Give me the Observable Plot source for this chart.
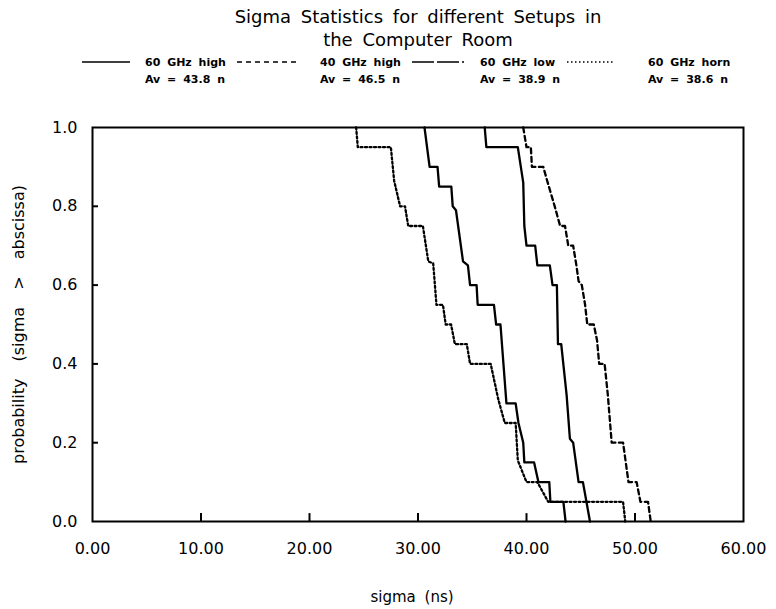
<!DOCTYPE html>
<html><head><meta charset="utf-8">
<script src="https://cdn.jsdelivr.net/npm/d3@7"></script>
<script src="https://cdn.jsdelivr.net/npm/@observablehq/plot@0.6"></script>
<style>
body{margin:0;background:#fff;font-family:"DejaVu Sans",sans-serif;}
#wrap{width:776px;height:609px;position:relative;overflow:hidden;background:#fff}
#head{display:block}
#chart svg{display:block}
</style></head><body><div id="wrap"><svg id="head" width="776" height="95"></svg><div id="chart"></div></div>
<script>
const title1 = "Sigma Statistics for different Setups in";
const title2 = "the Computer Room";
const seriesNames = ["60 GHz high", "40 GHz high", "60 GHz low", "60 GHz horn"];
const averages = ["Av = 43.8 n", "Av = 46.5 n", "Av = 38.9 n", "Av = 38.6 n"];
const xLabel = "sigma (ns)";
const yLabel = "probability (sigma > abscissa)";
const xTicks = [0, 10, 20, 30, 40, 50, 60];
const yTicks = [0, 0.2, 0.4, 0.6, 0.8, 1.0];

// 60 GHz high (solid)
const sigma60High = [36.15, 36.3, 39.2, 39.7, 39.8, 40.0, 40.8, 41.0, 42.15, 42.4, 42.8, 42.9, 43.2, 43.7, 44.0, 44.3, 44.8, 45.2, 45.85];
const prob60High  = [1.0, 0.95, 0.95, 0.86, 0.75, 0.70, 0.70, 0.65, 0.65, 0.60, 0.60, 0.45, 0.45, 0.32, 0.21, 0.20, 0.10, 0.10, 0.0];
// 40 GHz high (dashed)
const sigma40High = [39.7, 40.0, 40.4, 40.5, 41.55, 41.85, 42.6, 43.1, 43.55, 43.85, 44.3, 44.6, 44.8, 45.1, 45.4, 45.6, 46.2, 46.5, 46.7, 47.2, 47.5, 47.85, 48.9, 49.4, 50.15, 50.5, 51.2, 51.45];
const prob40High  = [1.0, 0.95, 0.95, 0.90, 0.90, 0.87, 0.80, 0.75, 0.75, 0.70, 0.70, 0.65, 0.61, 0.60, 0.55, 0.50, 0.50, 0.46, 0.40, 0.40, 0.32, 0.20, 0.20, 0.10, 0.10, 0.05, 0.05, 0.0];
// 60 GHz low (solid)
const sigma60Low = [30.6, 31.07, 31.8, 31.95, 33.07, 33.2, 33.5, 34.15, 34.6, 34.8, 35.4, 35.5, 37.0, 37.2, 37.6, 38.15, 39.0, 39.26, 39.7, 39.8, 40.7, 41.1, 42.1, 42.2, 43.4, 43.6];
const prob60Low  = [1.0, 0.90, 0.90, 0.85, 0.85, 0.80, 0.79, 0.66, 0.65, 0.60, 0.60, 0.55, 0.55, 0.50, 0.50, 0.30, 0.30, 0.25, 0.20, 0.15, 0.15, 0.10, 0.10, 0.05, 0.05, 0.0];
// 60 GHz horn (dotted)
const sigma60Horn = [24.3, 24.45, 27.5, 27.8, 28.35, 28.8, 29.1, 30.45, 30.95, 31.4, 31.7, 32.3, 32.55, 33.05, 33.4, 34.5, 34.8, 36.7, 37.4, 38.0, 39.0, 39.2, 40.0, 41.0, 42.0, 48.9, 49.1];
const prob60Horn  = [1.0, 0.95, 0.95, 0.865, 0.80, 0.80, 0.75, 0.75, 0.66, 0.655, 0.55, 0.55, 0.50, 0.50, 0.45, 0.45, 0.40, 0.40, 0.31, 0.25, 0.25, 0.155, 0.10, 0.10, 0.05, 0.05, 0.0];

const dashes = [null, "5,3.5", null, "2,2.5"];
const series = [
  {name: seriesNames[0], s: sigma60High, p: prob60High},
  {name: seriesNames[1], s: sigma40High, p: prob40High},
  {name: seriesNames[2], s: sigma60Low, p: prob60Low},
  {name: seriesNames[3], s: sigma60Horn, p: prob60Horn}
];
const rows = series.map(d => d.s.map((x, i) => ({series: d.name, sigma: x, prob: d.p[i]})));

// Header (title + legend)
const head = d3.select("#head");
const font = '"DejaVu Sans", sans-serif';
head.append("text").attr("x", 418).attr("y", 23).attr("text-anchor", "middle")
  .attr("font-family", font).attr("font-size", 18).attr("word-spacing", 4).text(title1);
head.append("text").attr("x", 418).attr("y", 46).attr("text-anchor", "middle")
  .attr("font-family", font).attr("font-size", 18).attr("word-spacing", 4).text(title2);
const sampleX = [[82, 130], [237, 298], [412, 464], [567, 615]];
const labelX = [145, 320, 480, 648];
const sampleDash = [null, "5,4", "22,3", "1.5,2.5"];
seriesNames.forEach((n, i) => {
  head.append("line").attr("x1", sampleX[i][0]).attr("x2", sampleX[i][1]).attr("y1", 62).attr("y2", 62)
    .attr("stroke", "#000").attr("stroke-width", 1.6).attr("stroke-dasharray", sampleDash[i]);
  head.append("text").attr("x", labelX[i]).attr("y", 66).attr("font-family", font).attr("font-size", 11)
    .attr("font-weight", "bold").attr("word-spacing", 3).text(n);
  head.append("text").attr("x", labelX[i]).attr("y", 83).attr("font-family", font).attr("font-size", 11)
    .attr("font-weight", "bold").attr("word-spacing", 3).text(averages[i]);
});

const plot = Plot.plot({
  width: 776, height: 514,
  marginLeft: 92, marginRight: 33, marginTop: 32, marginBottom: 88,
  style: {fontFamily: font, fontSize: "16px", color: "#000", background: "#fff"},
  x: {domain: [0, 60]},
  y: {domain: [0, 1]},
  marks: [
    Plot.axisX({ticks: xTicks, tickSize: 0, tickPadding: 21, tickFormat: d3.format(".2f"), fontSize: 16, label: null}),
    Plot.axisY({ticks: yTicks, tickSize: 0, tickPadding: 15, tickFormat: d3.format(".1f"), fontSize: 16, label: null}),
    Plot.ruleX(xTicks.slice(1, -1), {y1: 0, y2: 0.02, strokeWidth: 2}),
    Plot.ruleY(yTicks.slice(1, -1), {x1: 0, x2: 0.55, strokeWidth: 2}),
    ...rows.map((r, i) => Plot.line(r, {x: "sigma", y: "prob", stroke: "#000", strokeWidth: 2.3, strokeDasharray: dashes[i]})),
    Plot.frame({strokeWidth: 2}),
    Plot.text([xLabel], {frameAnchor: "bottom", dy: 76, dx: -6, lineAnchor: "middle", textAnchor: "middle", text: d => d, fontSize: 15, className: "xlab"}),
    Plot.text([yLabel], {frameAnchor: "left", dx: -74, rotate: -90, lineAnchor: "middle", textAnchor: "middle", text: d => d, fontSize: 16, className: "ylab"})
  ]
});
d3.select(plot).selectAll(".ylab text").attr("word-spacing", 12);
d3.select(plot).selectAll(".xlab text").attr("word-spacing", 4);
document.getElementById("chart").appendChild(plot);
</script></body></html>
